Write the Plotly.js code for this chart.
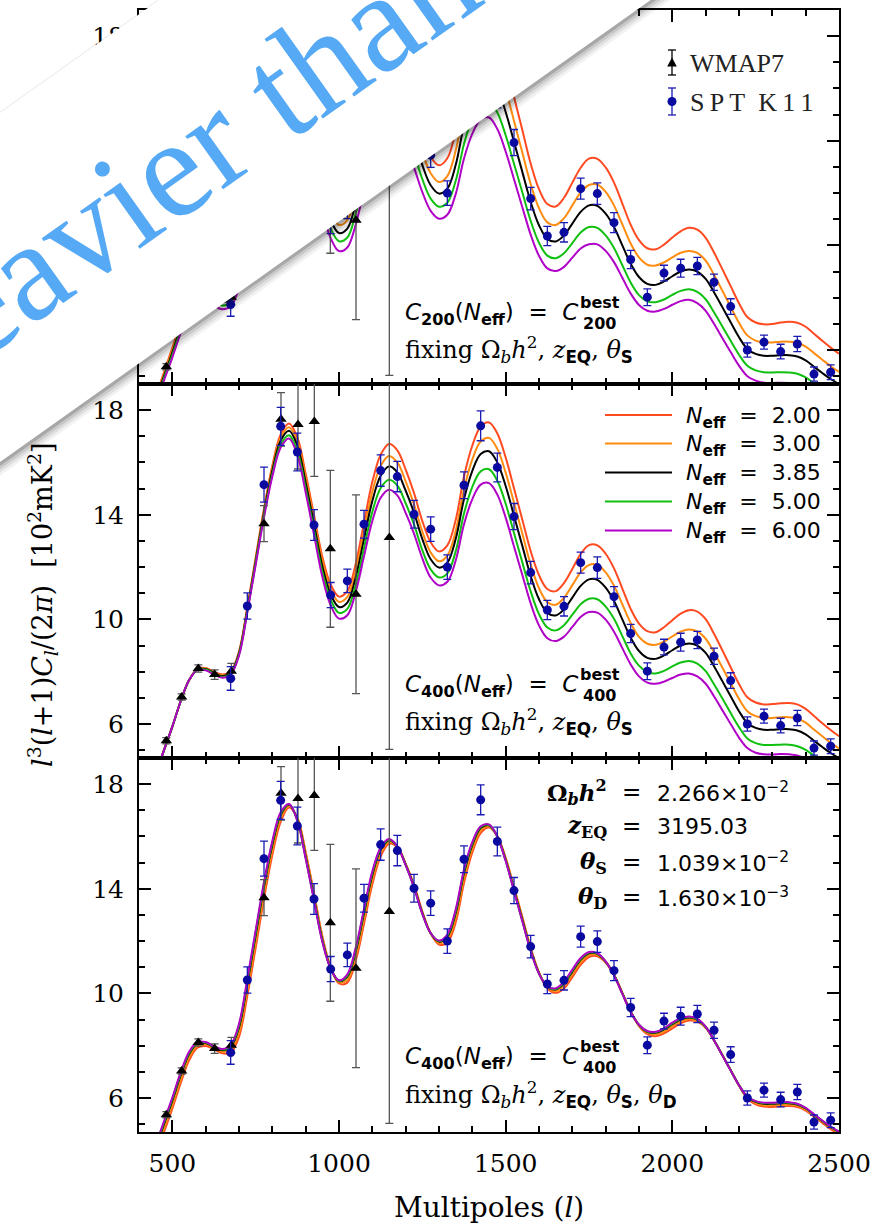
<!DOCTYPE html>
<html><head><meta charset="utf-8">
<script src="https://cdn.plot.ly/plotly-3.0.1.min.js"></script>
<style>html,body{margin:0;padding:0;background:#fff;} #chart{width:883px;height:1230px;}</style>
</head><body><div id="chart"></div>
<script>
// ---------------- DATA ----------------
const ell = [450,475,500,525,550,575,600,625,650,675,700,
  725,750,775,800,825,850,875,900,925,950,
  975,1000,1025,1050,1075,1100,1125,1150,1175,1200,
  1225,1250,1275,1300,1325,1350,1375,1400,1425,1450,
  1475,1500,1525,1550,1575,1600,1625,1650,1675,1700,
  1725,1750,1775,1800,1825,1850,1875,1900,1925,1950,
  1975,2000,2025,2050,2075,2100,2125,2150,2175,2200,
  2225,2250,2275,2300,2325,2350,2375,2400,2425,2450,2475,2500];

// N_eff = 3.85 (best fit) - same in all panels
const neff385 = [4.1,5.0,5.9,6.87,7.67,8.08,8.1,7.95,7.83,7.95,8.7,
  10.38,12.23,14.08,15.68,16.83,17.21,16.64,15.23,13.64,12.04,
  10.96,10.47,10.64,11.6,13.07,14.53,15.49,15.85,15.62,14.92,
  14.08,13.07,12.3,11.98,12.17,13.07,14.6,15.68,16.32,16.43,
  16.0,15.1,13.96,12.81,11.66,10.77,10.25,10.15,10.38,10.83,
  11.28,11.53,11.51,11.21,10.7,10.0,9.3,8.79,8.53,8.49,
  8.62,8.82,9.0,9.08,9.0,8.72,8.21,7.64,7.06,6.49,
  6.04,5.85,5.78,5.78,5.8,5.8,5.75,5.6,5.36,5.12,4.89,4.69];

// Panel 1: C200(Neff) = C200best, fixing Obh2, zEQ, thetaS
const p1_neff200 = [4.22,5.15,6.08,7.08,7.9,8.32,8.34,8.21,8.1,8.24,9.02,
  10.78,12.72,14.66,16.34,17.56,17.98,17.43,15.99,14.36,12.7,
  11.59,11.1,11.32,12.39,14.0,15.62,16.69,17.12,16.91,16.19,
  15.3,14.22,13.39,13.06,13.33,14.38,16.12,17.37,18.14,18.32,
  17.88,16.91,15.67,14.41,13.13,12.15,11.58,11.49,11.82,12.4,
  12.97,13.32,13.31,12.98,12.4,11.6,10.79,10.2,9.89,9.85,
  10.03,10.3,10.54,10.67,10.6,10.29,9.73,9.09,8.44,7.79,
  7.26,7.05,6.98,6.99,7.05,7.08,7.04,6.89,6.62,6.35,6.09,5.86];
const p1_neff300 = [4.16,5.08,5.99,6.97,7.79,8.2,8.22,8.08,7.96,8.09,8.86,
  10.58,12.47,14.37,16.01,17.19,17.59,17.03,15.61,14.0,12.38,
  11.28,10.78,10.97,11.97,13.5,15.02,16.02,16.4,16.17,15.46,
  14.59,13.55,12.76,12.42,12.65,13.62,15.25,16.42,17.13,17.28,
  16.86,15.95,14.76,13.55,12.35,11.42,10.88,10.78,11.04,11.53,
  12.03,12.31,12.33,12.05,11.53,10.8,10.07,9.54,9.26,9.23,
  9.35,9.54,9.72,9.79,9.71,9.42,8.88,8.27,7.65,7.04,
  6.56,6.36,6.29,6.29,6.32,6.32,6.28,6.13,5.88,5.63,5.38,5.16];
const p1_neff500 = [4.04,4.93,5.81,6.77,7.55,7.96,7.98,7.82,7.7,7.81,8.54,
  10.18,11.99,13.79,15.35,16.47,16.83,16.25,14.85,13.28,11.7,
  10.64,10.16,10.3,11.22,12.62,14.01,14.92,15.25,15.01,14.32,
  13.51,12.53,11.79,11.48,11.63,12.46,13.88,14.86,15.44,15.51,
  15.08,14.21,13.12,12.03,10.94,10.1,9.61,9.51,9.7,10.09,
  10.49,10.7,10.67,10.38,9.9,9.24,8.58,8.1,7.86,7.83,
  7.93,8.11,8.26,8.32,8.22,7.94,7.44,6.9,6.35,5.82,
  5.4,5.22,5.15,5.14,5.15,5.14,5.09,4.95,4.73,4.51,4.3,4.11];
const p1_neff600 = [3.97,4.84,5.71,6.65,7.42,7.82,7.84,7.69,7.56,7.67,8.39,
  10.0,11.77,13.52,15.02,16.1,16.44,15.85,14.47,12.9,11.34,
  10.28,9.78,9.92,10.79,12.13,13.45,14.33,14.65,14.42,13.76,
  12.97,12.04,11.32,11.02,11.17,11.96,13.32,14.27,14.82,14.89,
  14.45,13.59,12.53,11.46,10.41,9.6,9.12,9.02,9.18,9.53,
  9.88,10.04,10.04,9.79,9.36,8.76,8.16,7.72,7.5,7.47,
  7.57,7.73,7.87,7.92,7.79,7.5,7.0,6.46,5.92,5.4,
  5.0,4.83,4.75,4.74,4.75,4.74,4.69,4.56,4.36,4.16,3.97,3.8];

// Panel 2: C400(Neff) = C400best, fixing Obh2, zEQ, thetaS
const p2_neff200 = [4.1,5.0,5.9,6.87,7.67,8.1,8.14,8.0,7.89,8.01,8.77,
  10.47,12.35,14.24,15.88,17.07,17.49,16.96,15.57,13.99,12.4,
  11.33,10.87,11.08,12.12,13.69,15.26,16.3,16.71,16.46,15.73,
  14.83,13.76,12.95,12.6,12.83,13.8,15.46,16.65,17.37,17.53,
  17.11,16.19,15.01,13.81,12.61,11.69,11.16,11.08,11.39,11.93,
  12.5,12.84,12.83,12.51,11.95,11.18,10.4,9.84,9.55,9.51,
  9.7,9.97,10.22,10.35,10.3,10.01,9.45,8.82,8.17,7.53,
  7.02,6.82,6.75,6.76,6.79,6.8,6.75,6.58,6.31,6.03,5.77,5.53];
const p2_neff300 = [4.1,5.0,5.9,6.87,7.67,8.09,8.12,7.98,7.86,7.98,8.73,
  10.43,12.29,14.16,15.79,16.96,17.35,16.81,15.41,13.83,12.23,
  11.15,10.67,10.86,11.86,13.37,14.88,15.87,16.25,16.0,15.28,
  14.4,13.36,12.56,12.22,12.44,13.38,14.98,16.12,16.8,16.94,
  16.52,15.61,14.46,13.28,12.1,11.19,10.66,10.56,10.82,11.31,
  11.8,12.08,12.09,11.8,11.29,10.58,9.86,9.33,9.07,9.03,
  9.15,9.35,9.53,9.61,9.54,9.26,8.74,8.16,7.56,6.96,
  6.49,6.3,6.23,6.23,6.26,6.26,6.21,6.05,5.79,5.53,5.28,5.07];
const p2_neff500 = [4.1,5.0,5.9,6.87,7.67,8.07,8.08,7.92,7.8,7.91,8.66,
  10.32,12.16,13.98,15.55,16.68,17.04,16.44,15.02,13.42,11.82,
  10.75,10.25,10.4,11.31,12.72,14.11,15.02,15.34,15.12,14.44,
  13.63,12.65,11.91,11.6,11.76,12.6,14.05,15.07,15.66,15.74,
  15.3,14.42,13.3,12.18,11.07,10.2,9.69,9.58,9.78,10.18,
  10.58,10.79,10.77,10.49,10.02,9.36,8.7,8.23,7.98,7.93,
  8.03,8.2,8.35,8.41,8.31,8.02,7.52,6.98,6.42,5.88,
  5.45,5.27,5.2,5.2,5.21,5.21,5.15,5.01,4.79,4.57,4.36,4.17];
const p2_neff600 = [4.1,5.0,5.9,6.87,7.67,8.06,8.05,7.89,7.77,7.88,8.61,
  10.27,12.08,13.9,15.46,16.57,16.92,16.29,14.85,13.24,11.63,
  10.54,10.03,10.16,11.04,12.41,13.76,14.65,14.96,14.74,14.07,
  13.28,12.33,11.6,11.3,11.44,12.25,13.64,14.6,15.15,15.21,
  14.77,13.89,12.79,11.7,10.61,9.77,9.28,9.17,9.34,9.71,
  10.09,10.28,10.26,9.99,9.53,8.9,8.28,7.82,7.58,7.54,
  7.62,7.76,7.89,7.93,7.82,7.54,7.06,6.53,6.0,5.48,
  5.08,4.9,4.84,4.83,4.85,4.84,4.8,4.66,4.46,4.25,4.06,3.89];

// Panel 3: C400(Neff) = C400best, fixing Obh2, zEQ, thetaS, thetaD
const p3_neff200 = [3.80,4.70,5.59,6.57,7.43,7.92,7.99,7.86,7.71,7.74,8.34,
  9.91,11.74,13.62,15.29,16.56,17.11,16.72,15.41,13.84,12.19,
  11.0,10.38,10.41,11.24,12.66,14.17,15.24,15.72,15.59,14.95,
  14.15,13.13,12.29,11.87,11.94,12.71,14.22,15.39,16.13,16.34,
  16.01,15.18,14.07,12.92,11.74,10.79,10.19,10.02,10.19,10.62,
  11.09,11.39,11.42,11.17,10.7,10.02,9.3,8.75,8.44,8.36,
  8.47,8.66,8.85,8.96,8.92,8.68,8.2,7.64,7.06,6.47,
  5.98,5.76,5.67,5.66,5.68,5.69,5.65,5.52,5.29,5.05,4.81,4.61];
const p3_neff300 = [3.93,4.83,5.73,6.70,7.54,7.99,8.05,7.91,7.77,7.84,8.49,
  10.11,11.95,13.81,15.46,16.68,17.16,16.7,15.35,13.77,12.14,
  10.99,10.43,10.51,11.39,12.83,14.33,15.35,15.78,15.62,14.95,
  14.13,13.12,12.31,11.93,12.05,12.86,14.38,15.52,16.22,16.39,
  16.02,15.16,14.04,12.89,11.72,10.8,10.23,10.08,10.28,10.72,
  11.18,11.46,11.47,11.2,10.71,10.02,9.31,8.78,8.49,8.43,
  8.54,8.74,8.92,9.02,8.96,8.71,8.22,7.65,7.07,6.49,
  6.02,5.81,5.72,5.72,5.74,5.74,5.70,5.56,5.33,5.09,4.86,4.66];
const p3_neff500 = [4.16,5.06,5.96,6.93,7.71,8.11,8.12,7.97,7.85,7.99,8.77,
  10.47,12.32,14.17,15.76,16.88,17.23,16.62,15.19,13.6,12.01,
  10.95,10.48,10.68,11.67,13.15,14.6,15.54,15.87,15.62,14.91,
  14.06,13.05,12.3,12.0,12.21,13.14,14.67,15.73,16.36,16.44,
  15.99,15.08,13.93,12.78,11.64,10.76,10.26,10.17,10.41,10.87,
  11.31,11.56,11.52,11.21,10.7,9.99,9.3,8.8,8.54,8.51,
  8.65,8.85,9.03,9.1,9.01,8.72,8.21,7.64,7.06,6.49,
  6.05,5.87,5.8,5.8,5.82,5.82,5.77,5.61,5.37,5.13,4.9,4.7];
const p3_neff600 = [4.21,5.11,6.02,6.98,7.76,8.14,8.14,7.98,7.87,8.03,8.84,
  10.56,12.42,14.26,15.83,16.93,17.24,16.6,15.15,13.55,11.97,
  10.94,10.5,10.73,11.74,13.23,14.67,15.58,15.9,15.62,14.9,
  14.05,13.04,12.3,12.02,12.25,13.21,14.74,15.79,16.39,16.46,
  15.99,15.06,13.91,12.76,11.62,10.75,10.27,10.2,10.45,10.91,
  11.35,11.58,11.54,11.22,10.69,9.98,9.29,8.8,8.56,8.53,
  8.67,8.88,9.05,9.12,9.03,8.73,8.21,7.63,7.05,6.49,
  6.05,5.88,5.82,5.82,5.84,5.84,5.78,5.62,5.38,5.14,4.91,4.71];

// WMAP7 band powers
const wmapL = [482,528,578,627,677,775,826,877,926,974,1051,1151];
const wmapV = [5.36,7.03,8.12,7.89,8.02,13.66,17.65,17.45,17.57,12.7,10.96,13.13];
const wmapE = [0.12,0.12,0.14,0.18,0.3,0.69,1.02,1.7,2.1,3.0,3.8,8.1];

// SPT K11 band powers
const sptL = [675,725,775,825,875,925,975,1025,1075,1125,1175,1225,1275,1325,1375,1425,1475,1525,1575,1625,
  1675,1725,1775,1825,1875,1925,1975,2025,2075,2125,2175,2225,2275,2325,2375,2425,2475];
const sptV = [7.74,10.51,15.15,17.38,16.4,13.61,10.93,11.47,13.64,15.69,15.46,14.02,13.45,12.0,15.13,17.4,15.81,13.93,11.79,10.36,
  10.5,12.17,11.98,10.87,9.46,8.02,8.94,9.13,9.21,8.59,7.66,6.0,6.3,5.94,6.23,5.08,5.15];
const sptE = [0.45,0.5,0.67,0.73,0.72,0.59,0.48,0.45,0.53,0.6,0.58,0.53,0.47,0.47,0.51,0.57,0.55,0.5,0.43,0.37,
  0.37,0.4,0.41,0.38,0.35,0.32,0.3,0.34,0.33,0.31,0.3,0.27,0.27,0.28,0.29,0.27,0.28];

const neffLabels = ['2.00','3.00','3.85','5.00','6.00'];
const xTicks = [500,1000,1500,2000,2500];
const yTicks = [6,10,14,18];

// ---------------- LAYOUT HELPERS ----------------
const W=883, H=1230, ML=139, MR=44, MT=10, MB=98;
const PW=W-ML-MR, PH=H-MT-MB;
const X = px => (px-ML)/PW;
const Y = py => (H-MB-py)/PH;

const colors = ['#FF4A22','#FF8C10','#000000','#10C010','#B000C8'];
const panels = [
  {xa:'x',  ya:'y',  curves:[p1_neff200,p1_neff300,neff385,p1_neff500,p1_neff600]},
  {xa:'x2', ya:'y2', curves:[p2_neff200,p2_neff300,neff385,p2_neff500,p2_neff600]},
  {xa:'x3', ya:'y3', curves:[p3_neff200,p3_neff300,neff385,p3_neff500,p3_neff600]}
];

const traces = [];
panels.forEach(p => {
  p.curves.forEach((c,i) => {
    traces.push({x:ell, y:c, xaxis:p.xa, yaxis:p.ya, type:'scatter', mode:'lines',
      line:{color:colors[i], width:2, shape:'spline', smoothing:1}, hoverinfo:'skip', showlegend:false});
  });
  traces.push({x:wmapL, y:wmapV, xaxis:p.xa, yaxis:p.ya, type:'scatter', mode:'markers',
    marker:{symbol:'triangle-up', size:10, color:'#000'},
    error_y:{type:'data', array:wmapE, visible:true, color:'#555', thickness:1.3, width:4},
    showlegend:false});
  traces.push({x:sptL, y:sptV, xaxis:p.xa, yaxis:p.ya, type:'scatter', mode:'markers',
    marker:{symbol:'circle', size:9, color:'#0A0AA0'},
    error_y:{type:'data', array:sptE, visible:true, color:'#1A1AB4', thickness:1.3, width:4},
    showlegend:false});
});

const tickFont = {family:'DejaVu Serif', size:25, color:'#000'};
function xAxis(anchor, labels){
  return {domain:[0,1], anchor:anchor, range:[400,2500], tickmode:'array', tickvals:xTicks,
    ticks:'inside', ticklen:12, tickwidth:2, tickcolor:'#000',
    showline:true, linewidth:2, linecolor:'#000', mirror:'ticks',
    showgrid:false, zeroline:false, showticklabels:labels, tickfont:tickFont, ticklabelstandoff:8,
    minor:{dtick:100, tick0:400, ticks:'inside', ticklen:6, tickwidth:2, tickcolor:'#000', showgrid:false}};
}
function yAxis(anchor, dom){
  return {domain:dom, anchor:anchor, range:[4.7,19.0], tickmode:'array', tickvals:yTicks,
    ticks:'inside', ticklen:12, tickwidth:2, tickcolor:'#000',
    showline:true, linewidth:2, linecolor:'#000', mirror:'ticks',
    showgrid:false, zeroline:false, tickfont:tickFont, ticklabelstandoff:8,
    minor:{dtick:1, tick0:4, ticks:'inside', ticklen:6, tickwidth:2, tickcolor:'#000', showgrid:false}};
}

// ---------- banner (white strip with shadow) ----------
const bandPx = [[-300,326],[400,-171],[900,-177],[-300,675]];
function bandPath(dx,dy){
  return bandPx.map((p,i)=>(i?'L':'M')+X(p[0]+dx).toFixed(5)+','+Y(p[1]+dy).toFixed(5)).join(' ')+' Z';
}
const shapes = [];
[[6.5,9.2,0.05],[5,7,0.07],[3.4,4.8,0.1],[1.8,2.6,0.17]].forEach(s=>{
  shapes.push({type:'path', xref:'paper', yref:'paper', path:bandPath(s[0],s[1]), fillcolor:'rgba(0,0,0,'+s[2]+')', line:{width:0}, layer:'above'});
});
shapes.push({type:'path', xref:'paper', yref:'paper', path:bandPath(-0.6,-0.8), fillcolor:'rgba(0,0,0,0.08)', line:{width:0}, layer:'above'});
shapes.push({type:'path', xref:'paper', yref:'paper', path:bandPath(0,0), fillcolor:'#FFFFFF', line:{width:0}, layer:'above'});

// ---------- legend for data ----------
function seg(x0,y0,x1,y1,color,w){ return {type:'line', xref:'paper', yref:'paper', x0:X(x0), y0:Y(y0), x1:X(x1), y1:Y(y1), line:{color:color, width:w}}; }
shapes.push(seg(672,50,672,75,'#000',1.3), seg(668,50,676,50,'#000',1.3), seg(668,75,676,75,'#000',1.3));
shapes.push({type:'path', xref:'paper', yref:'paper', path:'M'+X(667.2)+','+Y(66.5)+' L'+X(676.8)+','+Y(66.5)+' L'+X(672)+','+Y(57.5)+' Z', fillcolor:'#000', line:{width:0}});
shapes.push(seg(672,88,672,115,'#1A1AB4',1.3), seg(668,88,676,88,'#1A1AB4',1.3), seg(668,115,676,115,'#1A1AB4',1.3));
shapes.push({type:'circle', xref:'paper', yref:'paper', x0:X(667.5), x1:X(676.5), y0:Y(106), y1:Y(97), fillcolor:'#0A0AA0', line:{width:0}});

// ---------- legend for curves ----------
const legRows = [415, 443.5, 472.5, 501.5, 530.5];
legRows.forEach((r,i)=> shapes.push(seg(605,r,672,r,colors[i],2)));

const NB = '\u00a0', TS = '\u2009';
const annotations = [];
function ann(text, px, py, opt){
  return Object.assign({text:text, x:X(px), y:Y(py), xref:'paper', yref:'paper', showarrow:false,
    xanchor:'left', yanchor:'middle', font:{family:'DejaVu Sans', size:22, color:'#000'}}, opt||{});
}
legRows.forEach((r,i)=> annotations.push(ann('<i>N</i><sub><b>eff</b></sub>'+NB+NB+'='+NB+NB+neffLabels[i], 684, r+2, {font:{family:'DejaVu Sans', size:22, color:'#000'}})));
annotations.push(ann('WMAP7', 688, 63, {font:{family:'Liberation Serif', size:26, color:'#222'}}));
annotations.push(ann('S'+TS+'P'+TS+'T'+NB+NB+'K'+TS+'1'+TS+'1', 688, 102, {font:{family:'Liberation Serif', size:26, color:'#222'}}));

// panel texts
const subS = s => '<sub><span style="font-family:DejaVu Sans;font-weight:bold">'+s+'</span></sub>';
function panelText(num, y1, fixes){
  const l1 = '<i>C</i>'+subS(num)+'(<i>N</i>'+subS('eff')+')'+NB+NB+'='+NB+NB+'<i>C</i>';
  annotations.push(ann(l1, 403, y1, {font:{family:'DejaVu Sans', size:23, color:'#000'}}));
  annotations.push(ann('<b>best</b><br><b>'+num+'</b>', 578, y1-1, {font:{family:'DejaVu Sans', size:16, color:'#000'}}));
  annotations.push(ann(fixes, 403, y1+36, {font:{family:'DejaVu Serif', size:24, color:'#000'}}));
}
const fix1 = 'fixing'+NB+'Ω<sub><i>b</i></sub><i>h</i><sup>2</sup>,'+NB+'<i>z</i>'+subS('EQ')+','+NB+'<i>θ</i>'+subS('S');
panelText('200', 314, fix1);
panelText('400', 686, fix1);
panelText('400', 1058, fix1+','+NB+'<i>θ</i>'+subS('D'));

// parameter block (panel 3)
const pL = ['Ω<sub><i>b</i></sub><i>h</i><sup>2</sup>', '<i>z</i><sub>EQ</sub>', '<i>θ</i><sub>S</sub>', '<i>θ</i><sub>D</sub>'];
const pR = ['2.266×10<sup>−2</sup>', '3195.03', '1.039×10<sup>−2</sup>', '1.630×10<sup>−3</sup>'];
const pY = [792, 826, 862, 897];
pY.forEach((py,i)=>{
  annotations.push(ann('<b>'+pL[i]+'</b>', 609, py, {xanchor:'right', font:{family:'DejaVu Serif', size:23, color:'#000'}}));
  annotations.push(ann('=', 631, py, {xanchor:'center', font:{family:'DejaVu Sans', size:23, color:'#000'}}));
  annotations.push(ann(pR[i], 655, py, {font:{family:'DejaVu Sans', size:22, color:'#000'}}));
});

// axis titles
annotations.push(ann('Multipoles'+NB+'(<i>l</i>)', 489, 1207, {xanchor:'center', font:{family:'DejaVu Serif', size:28, color:'#000'}}));
annotations.push(ann('<i>l</i><sup>3</sup>(<i>l</i>+1)<i>C</i><sub><i>l</i></sub>/(2<i>π</i>)'+NB+NB+'[10<sup>2</sup>mK<sup>2</sup>]', 42, 605,
  {xanchor:'center', textangle:-90, font:{family:'DejaVu Serif', size:27, color:'#000'}}));

// banner text
annotations.push(ann('Heavier than', 162, 174, {xanchor:'center', textangle:-35.4,
  font:{family:'Liberation Serif', size:142, color:'#56A9F4'}}));

const layout = {
  width:W, height:H, margin:{l:ML, r:MR, t:MT, b:MB, pad:0},
  paper_bgcolor:'#fff', plot_bgcolor:'#fff', showlegend:false,
  xaxis:xAxis('y',false), xaxis2:xAxis('y2',false), xaxis3:xAxis('y3',true),
  yaxis:yAxis('x',[2/3,1]), yaxis2:yAxis('x2',[1/3,2/3]), yaxis3:yAxis('x3',[0,1/3]),
  shapes:shapes, annotations:annotations
};
Plotly.newPlot('chart', traces, layout, {displayModeBar:false, staticPlot:true});
</script></body></html>
